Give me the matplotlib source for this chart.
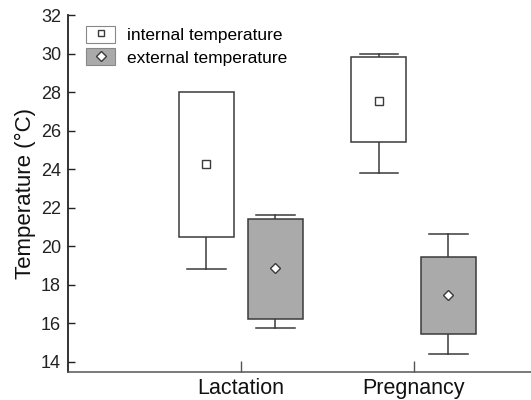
import matplotlib.pyplot as plt
from matplotlib.patches import Patch
from matplotlib.lines import Line2D
from matplotlib.legend_handler import HandlerTuple

plt.rcParams['font.family'] = ['Liberation Sans', 'DejaVu Sans']

groups = ['Lactation', 'Pregnancy']
series = ['internal temperature', 'external temperature']

# box bottom / top, whisker low / high, mean
box_low = {'internal temperature': [20.5, 25.4], 'external temperature': [16.25, 15.45]}
box_high = {'internal temperature': [28.0, 29.8], 'external temperature': [21.4, 19.45]}
whisk_low = {'internal temperature': [18.8, 23.8], 'external temperature': [15.75, 14.4]}
whisk_high = {'internal temperature': [28.0, 30.0], 'external temperature': [21.6, 20.65]}
means = {'internal temperature': [24.25, 27.55], 'external temperature': [18.85, 17.45]}

fills = {'internal temperature': 'white', 'external temperature': '#aaaaaa'}
markers = {'internal temperature': 's', 'external temperature': 'D'}
offsets = {'internal temperature': -0.2, 'external temperature': 0.2}

edge = '#3a3a3a'
width = 0.318
cap = 0.225

fig = plt.figure(figsize=(5.31, 4.0), dpi=100)
ax = fig.add_axes([0.128, 0.07, 0.872, 0.8925])

xs = [1, 2]
for s in series:
    for i, x in enumerate(xs):
        xc = x + offsets[s]
        lo, hi = box_low[s][i], box_high[s][i]
        wl, wh = whisk_low[s][i], whisk_high[s][i]
        if wl < lo:
            ax.plot([xc, xc], [wl, lo], color=edge, lw=1.1, zorder=1)
            ax.plot([xc - cap / 2, xc + cap / 2], [wl, wl], color=edge, lw=1.1, zorder=1)
        if wh > hi:
            ax.plot([xc, xc], [hi, wh], color=edge, lw=1.1, zorder=1)
            ax.plot([xc - cap / 2, xc + cap / 2], [wh, wh], color=edge, lw=1.1, zorder=1)
        ax.bar(xc, hi - lo, bottom=lo, width=width, color=fills[s],
               edgecolor=edge, linewidth=1.1, zorder=2)
        ax.plot([xc], [means[s][i]], marker=markers[s], ms=6 if s.startswith('int') else 5.5,
                mfc='white', mec=edge, mew=1.0, ls='none', zorder=3)

ax.set_xlim(0, 2.68)
ax.set_ylim(13.48, 32)
ax.set_yticks(range(14, 33, 2))
ax.set_xticks(xs)
ax.set_xticklabels(groups, fontsize=15.5, color='#111111')
ax.tick_params(axis='y', labelsize=13, colors='#222222', direction='in', length=5, width=1, pad=5)
ax.tick_params(axis='x', direction='in', length=8, width=1, color='#555555', pad=4.5)
ax.set_ylabel('Temperature (°C)', fontsize=16, color='#111111', labelpad=3.5)

for side in ['top', 'right']:
    ax.spines[side].set_visible(False)
ax.spines['left'].set_color('#222222')
ax.spines['left'].set_linewidth(1.3)
ax.spines['bottom'].set_color('#555555')
ax.spines['bottom'].set_linewidth(1.1)

handles = []
for s in series:
    p = Patch(facecolor=fills[s], edgecolor='#888888', linewidth=0.8)
    m = Line2D([], [], marker=markers[s], ms=5, mfc='white', mec=edge, mew=1.0, ls='none')
    handles.append((p, m))
ax.legend(handles, series, handler_map={tuple: HandlerTuple(ndivide=1, pad=0)},
          loc='upper left', bbox_to_anchor=(0.162, 0.935), bbox_transform=fig.transFigure,
          frameon=False, fontsize=12.5, handlelength=1.67, handleheight=1.1,
          handletextpad=0.7, labelspacing=0.3, borderaxespad=0, borderpad=0)

fig.savefig('out.png', dpi=100)
